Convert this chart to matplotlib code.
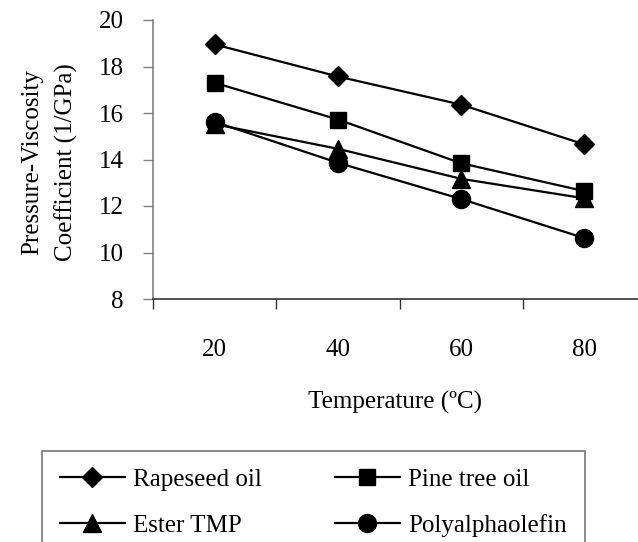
import numpy as np
import matplotlib
matplotlib.use("Agg")
import matplotlib.pyplot as plt
from matplotlib.ticker import FixedLocator, NullFormatter, FixedFormatter

temps = [20, 40, 60, 80]
rapeseed = [18.95, 17.57, 16.36, 14.65]
pine_tree = [17.30, 15.72, 13.84, 12.64]
ester_tmp = [15.52, 14.46, 13.17, 12.33]
pao = [15.62, 13.86, 12.30, 10.62]

plt.rcParams['font.family'] = ['Liberation Serif', 'DejaVu Serif']

fig = plt.figure(figsize=(6.38, 5.42), dpi=100)
# axes runs off the right side of the picture, as in the original
ax = fig.add_axes([153/638, 1 - 299/542, 493/638, 279/542])

series = [
    (rapeseed, 'D', 10, 'Rapeseed oil'),
    (pine_tree, 's', 12, 'Pine tree oil'),
    (ester_tmp, '^', 13, 'Ester TMP'),
    (pao, 'o', 13, 'Polyalphaolefin'),
]
lines = []
for vals, mk, ms, lab in series:
    ln, = ax.plot(temps, vals, color='black', lw=1.6, marker=mk, ms=ms,
                  mfc='black', mec='black', label=lab, clip_on=False)
    lines.append(ln)

ax.set_xlim(10, 90)
ax.set_ylim(8, 20)
ax.set_yticks([8, 10, 12, 14, 16, 18, 20])

# tick marks between categories, labels at the categories
ax.xaxis.set_major_locator(FixedLocator([10, 30, 50, 70, 90]))
ax.xaxis.set_major_formatter(NullFormatter())
ax.xaxis.set_minor_locator(FixedLocator(temps))
ax.xaxis.set_minor_formatter(FixedFormatter([str(t) for t in temps]))
ax.tick_params(axis='x', which='major', length=7, width=1, color='#333333', direction='out')
ax.tick_params(axis='x', which='minor', length=0, pad=29, labelsize=18)
ax.tick_params(axis='y', length=7, width=1, color='#808080', pad=14, labelsize=18)

for s in ['top', 'right']:
    ax.spines[s].set_visible(False)
ax.spines['left'].set_color('#808080')
ax.spines['bottom'].set_color('#333333')
ax.spines['left'].set_linewidth(1.2)
ax.spines['bottom'].set_linewidth(1.2)

ax.text(-0.21, 0.49, 'Pressure-Viscosity\nCoefficient (1/GPa)', transform=ax.transAxes,
        rotation=90, ha='center', va='center', multialignment='center',
        fontsize=18, linespacing=1.65)
ax.text(0.49, -0.372, 'Temperature (ºC)', transform=ax.transAxes,
        ha='center', va='center', fontsize=18)

# row-wise order: Rapeseed, Pine / Ester, PAO
order = [0, 2, 1, 3]
leg = fig.legend([lines[i] for i in order], [series[i][3] for i in order],
                 loc='upper left', bbox_to_anchor=(42/638, 1 - 451/542), ncol=2,
                 fontsize=18, frameon=True, fancybox=False, handlelength=2.6,
                 handletextpad=0.35, labelspacing=0.92, columnspacing=2.9,
                 borderpad=0.7, borderaxespad=0)
leg.get_frame().set_edgecolor('#555555')
leg.get_frame().set_linewidth(1.2)

fig.savefig('out.png', dpi=100)
